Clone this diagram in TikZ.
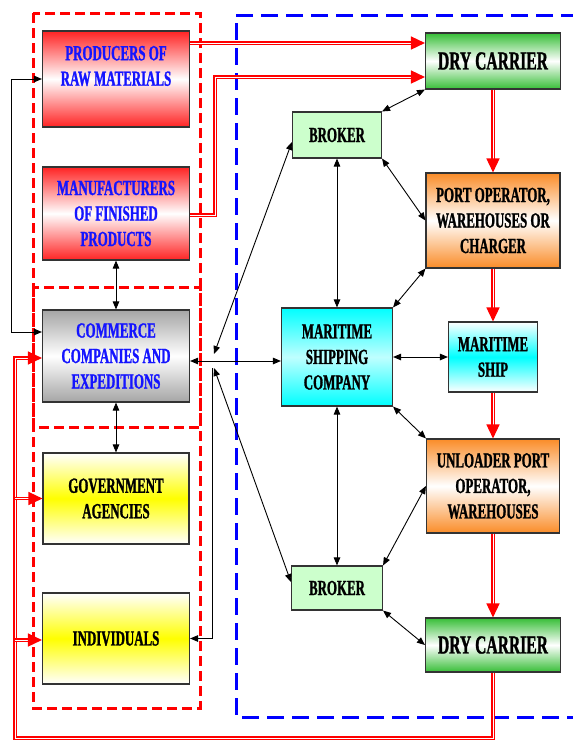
\documentclass[tikz,border=0pt]{standalone}
\usepackage{fontspec}
\newfontfamily\boxfont{Liberation Serif}[FakeStretch=0.6, BoldFeatures={FakeBold=1.2}]
\usetikzlibrary{arrows.meta}
\definecolor{rawred}{RGB}{255,35,35}
\definecolor{comgray}{RGB}{165,165,165}
\definecolor{carrgreen}{RGB}{55,190,55}
\definecolor{portorange}{RGB}{250,140,40}
\definecolor{brokergreen}{RGB}{204,255,204}
\definecolor{txtblue}{RGB}{20,20,255}
\begin{document}
\begin{tikzpicture}[x=1pt,y=-1pt,
  box/.style={draw=black!80, line width=1.1pt, rectangle, inner sep=0pt, align=center,
    font=\boxfont\bfseries\fontsize{21.5}{25.5}\selectfont},
  boxtext/.style={inner sep=0pt, align=center, font=\boxfont\bfseries\fontsize{21.5}{25.5}\selectfont},
  bigtext/.style={font=\boxfont\bfseries\fontsize{26}{30}\selectfont},
  redbox/.style={top color=rawred, bottom color=rawred, middle color=white},
  graybox/.style={top color=comgray, bottom color=comgray, middle color=white},
  yellowbox/.style={top color=white, bottom color=white, middle color=yellow},
  greenbox/.style={top color=carrgreen, bottom color=carrgreen, middle color=white},
  orangebox/.style={top color=portorange, bottom color=portorange, middle color=white},
  cyanbox/.style={top color=cyan, bottom color=cyan, middle color=cyan!25},
  shipbox/.style={top color=white, bottom color=white, middle color=cyan},
  brokerbox/.style={fill=brokergreen},
  reddash/.style={draw=red, line width=3pt, dash pattern=on 10pt off 5pt},
  bluedash/.style={draw=blue, line width=3pt, dash pattern=on 17pt off 8pt},
  flow/.style={draw=red, line width=1.5pt, double=white, double distance=0.8pt},
  flowtip/.style={flow, -{Triangle[length=14pt,width=13pt,color=red]}},
  link/.style={draw=black, line width=0.9pt},
  onearrow/.style={link, -{Triangle[length=8pt,width=6.5pt]}},
  biarrow/.style={link, {Triangle[length=8pt,width=6.5pt]}-{Triangle[length=8pt,width=6.5pt]}}
]
\useasboundingbox (0,0) rectangle (573,742);

% group frames
\draw[reddash] (33,13) rectangle (200,427);
\draw[reddash] (33,287) rectangle (200,708);
\draw[bluedash] (578,15) -| (236,717) -- (578,717);

% left column
\node[box, redbox, minimum width=147pt, minimum height=96pt] (prod) at (116,79) {};
\node[boxtext, text=txtblue] (prodlbl) at (116,66) {PRODUCERS OF\\RAW MATERIALS};
\node[box, redbox, text=txtblue, minimum width=147pt, minimum height=93pt] (manu) at (116,213.5)
  {MANUFACTURERS\\OF FINISHED\\PRODUCTS};
\node[box, graybox, text=txtblue, minimum width=147pt, minimum height=92pt] (com) at (116,356)
  {COMMERCE\\COMPANIES AND\\EXPEDITIONS};
\node[box, yellowbox, minimum width=146pt, minimum height=91pt] (gov) at (116,498.5)
  {GOVERNMENT\\AGENCIES};
\node[box, yellowbox, minimum width=147pt, minimum height=91pt] (ind) at (116,638.5)
  {\raisebox{-6pt}{INDIVIDUALS}};

% right side
\node[box, greenbox, bigtext, minimum width=135pt, minimum height=56pt] (dc1) at (493,61)
  {DRY CARRIER};
\node[box, brokerbox, minimum width=89pt, minimum height=46pt] (bt) at (337,135) {BROKER};
\node[box, orangebox, minimum width=134pt, minimum height=95pt] (po) at (493,220.5)
  {PORT OPERATOR,\\WAREHOUSES OR\\CHARGER};
\node[box, cyanbox, minimum width=111pt, minimum height=98pt] (ms) at (337,357)
  {MARITIME\\SHIPPING\\COMPANY};
\node[box, shipbox, minimum width=89pt, minimum height=70pt] (ship) at (493,357)
  {MARITIME\\SHIP};
\node[box, orangebox, minimum width=133pt, minimum height=94pt] (ul) at (493,486)
  {UNLOADER PORT\\OPERATOR,\\WAREHOUSES};
\node[box, brokerbox, minimum width=91pt, minimum height=44pt] (bb) at (337,588) {BROKER};
\node[box, greenbox, bigtext, minimum width=135pt, minimum height=54pt] (dc2) at (493,645)
  {DRY CARRIER};

% goods flow (red)
\coordinate (f1) at ([yshift=36pt]prod.east);
\draw[flowtip] (f1) -- (f1 -| dc1.west);
\coordinate (f2) at ([yshift=-1.5pt]manu.east);
\coordinate (f2e) at ([yshift=-16pt]dc1.west);
\draw[flowtip] (f2) -- ++(25,0) |- (f2e);
\draw[flowtip] (dc1.south) -- (po.north);
\draw[flowtip] (po.south) -- (ship.north);
\draw[flowtip] (ship.south) -- (ul.north);
\draw[flowtip] (ul.south) -- (dc2.north);
\coordinate (ret) at (15,738);
\draw[flowtip] (dc2.south) |- (ret) |- ([yshift=-2pt]com.west);
\draw[flowtip] (ret |- gov.west) -- (gov.west);
\draw[flowtip] ([yshift=-1.5pt]ret |- ind.west) -- ([yshift=-1.5pt]ind.west);

% information links (black)
\coordinate (lp) at (11,79);
\draw[biarrow] ([yshift=24pt]com.west) -| (lp) -- (prod.west);
\draw[biarrow] (manu.south) -- (com.north);
\draw[biarrow] (com.south) -- (gov.north);
\coordinate (ce) at ([yshift=-5pt]com.east);
\draw[biarrow] (ce) -- (ce -| ms.west);
\coordinate (ja) at (214,354);
\coordinate (jb) at (214,368);
\coordinate (jc) at (212,368);
\draw[biarrow] (ja) -- ([yshift=-7pt]bt.west);
\draw[biarrow] (jb) -- ([yshift=6pt]bb.west);
\draw[onearrow] (jc) |- (ind.east);

\draw[biarrow] (bt.north east) -- (dc1.south west);
\draw[biarrow] (bt.south east) -- (po.west);
\draw[biarrow] (bt.south) -- (ms.north);
\draw[biarrow] (po.south west) -- (ms.north east);
\draw[biarrow] (ms.east) -- (ship.west);
\draw[biarrow] (ms.south east) -- (ul.north west);
\draw[biarrow] (ms.south) -- (bb.north);
\draw[biarrow] (ul.west) -- (bb.north east);
\draw[biarrow] (bb.south east) -- (dc2.west);
\end{tikzpicture}
\end{document}
